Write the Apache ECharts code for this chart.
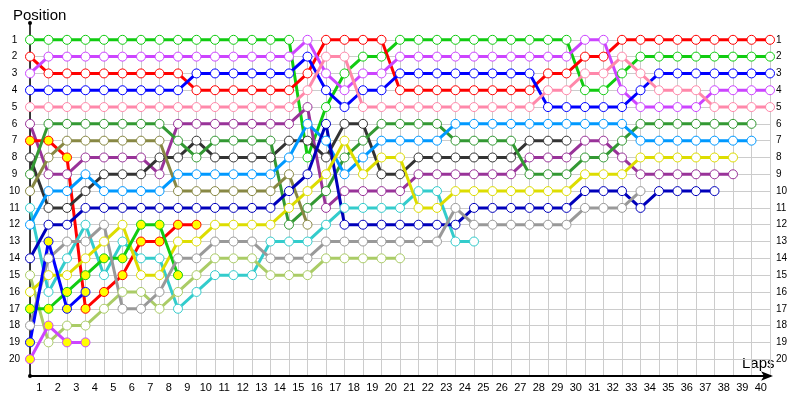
<!DOCTYPE html>
<html>
<head>
<meta charset="utf-8">
<script src="https://cdn.jsdelivr.net/npm/echarts@6/dist/echarts.min.js"></script>
<style>html,body{margin:0;padding:0;background:#fff}#c{width:800px;height:400px}</style>
</head>
<body>
<div id="c"></div>
<script>
// Tick labels
const lapLabels = ['1','2','3','4','5','6','7','8','9','10','11','12','13','14','15','16','17','18','19','20',
  '21','22','23','24','25','26','27','28','29','30','31','32','33','34','35','36','37','38','39','40'];
const posLabels = ['1','2','3','4','5','6','7','8','9','10','11','12','13','14','15','16','17','18','19','20'];

// Position per lap, starting at lap 0
const green      = [1,1,1,1,1,1,1,1,1,1,1,1,1,1,1,8,5,3,2,2,1,1,1,1,1,1,1,1,1,1,4,4,3,2,2,2,2,2,2,2,2];
const red        = [2,3,3,3,3,3,3,3,3,4,4,4,4,4,4,3,1,1,1,1,4,4,4,4,4,4,4,4,3,3,2,2,1,1,1,1,1,1,1,1,1];
const violet     = [3,2,2,2,2,2,2,2,2,2,2,2,2,2,2,1,3,4,3,3,2,2,2,2,2,2,2,2,2,2,1,1,4,5,5,5,5,4,4,4,4];
const blue       = [4,4,4,4,4,4,4,4,4,3,3,3,3,3,3,2,4,5,4,4,3,3,3,3,3,3,3,3,5,5,5,5,5,4,3,3,3,3,3,3,3];
const pink       = [5,5,5,5,5,5,5,5,5,5,5,5,5,5,5,4,2,2,5,5,5,5,5,5,5,5,5,5,4,4,3,3,2,3,4,4,4,5,5,5,5];
const purple     = [6,9,9,8,8,8,8,9,6,6,6,6,6,6,6,5,11,10,10,10,10,9,9,9,9,9,9,8,8,8,7,7,8,9,9,9,9,9,9];
const redB       = [7,7,8,17,16,15,13,13,12,12];
const darkGray   = [8,11,11,10,9,9,9,8,8,7,8,8,8,8,7,7,8,6,6,9,9,8,8,8,8,8,8,7,7,7];
const darkGreen  = [9,6,6,6,6,6,6,6,7,8,7,7,7,7,12,11,10,8,7,6,6,6,6,7,7,7,7,9,9,9,8,8,7,6,6,6,6,6,6,6];
const olive      = [10,8,7,7,7,7,7,7,10,10,10,10,10,10,9,12];
const teal       = [11,16,14,12,15,13,14,14,17,16,15,15,15,13,13,13,12,11,11,11,11,10,10,13,13];
const lightBlue  = [12,10,10,9,10,10,10,10,9,9,9,9,9,9,8,6,7,9,8,7,7,7,7,6,6,6,6,6,6,6,6,6,6,7,7,7,7,7,7,7];
const navy       = [14,12,12,11,11,11,11,11,11,11,11,11,11,11,10,9,6,12,12,12,12,12,12,12,11,11,11,11,11,11,10,10,10,11,10,10,10,10];
const yellowGreen= [15,19,18,18,17,16,16,17,16,15,14,14,14,15,15,15,14,14,14,14,14];
const yellow     = [16,15,15,14,13,12,15,15,13,13,12,12,12,12,11,10,9,7,9,8,8,11,11,10,10,10,10,10,10,10,9,9,9,8,8,8,8,8,8];
const greenB     = [17,17,16,15,14,14,12,12,15];
const gray       = [18,14,13,13,12,17,17,16,14,14,13,13,13,14,14,14,13,13,13,13,13,13,13,11,12,12,12,12,12,12,11,11,11,10];
const blueB      = [19,13,17,16];
const violetB    = [20,18,19,19];

const FONT = 'Liberation Sans';

function mk(name, color, vals, filled) {
  return {
    type: 'line', name: name, xAxisIndex: 0, yAxisIndex: 0,
    data: vals.map((v, i) => [i, v]),
    symbol: 'circle', symbolSize: 9, showAllSymbol: true, clip: false,
    lineStyle: { color: color, width: 3 },
    itemStyle: { color: filled ? '#ffff00' : '#ffffff', borderColor: color, borderWidth: 1 },
    emphasis: { disabled: true }, animation: false, z: 3
  };
}

const series = [
  mk('green', '#11cc11', green, false),
  mk('red', '#ff0000', red, false),
  mk('violet', '#cc44ff', violet, false),
  mk('blue', '#0000ff', blue, false),
  mk('pink', '#ff88aa', pink, false),
  mk('purple', '#993399', purple, false),
  mk('red2', '#ff0000', redB, true),
  mk('darkgray', '#333333', darkGray, false),
  mk('darkgreen', '#339933', darkGreen, false),
  mk('olive', '#888844', olive, false),
  mk('teal', '#33cccc', teal, false),
  mk('lightblue', '#0099ff', lightBlue, false),
  mk('navy', '#0000bb', navy, false),
  mk('yellowgreen', '#aacc66', yellowGreen, false),
  mk('yellow', '#dddd00', yellow, false),
  mk('green2', '#11cc11', greenB, true),
  mk('gray', '#999999', gray, false),
  mk('blue2', '#0000ff', blueB, true),
  mk('violet2', '#cc44ff', violetB, true)
];

const chart = echarts.init(document.getElementById('c'), null, { renderer: 'canvas' });
chart.setOption({
  animation: false,
  backgroundColor: '#ffffff',
  grid: [
    { left: 30, right: 30, top: 23, bottom: 24 },
    { left: 30, right: 30, top: 23 + 353 / 21, bottom: 24 }
  ],
  xAxis: [
    { gridIndex: 0, type: 'value', min: 0, max: 40, interval: 1,
      axisLine: { show: true, onZero: false, lineStyle: { color: '#000', width: 2 },
        symbol: ['none', 'arrow'], symbolSize: [7, 12], symbolOffset: [0, 3] },
      axisTick: { show: false }, axisLabel: { show: false }, splitLine: { show: false } },
    { gridIndex: 0, type: 'category', position: 'bottom', data: lapLabels, boundaryGap: true,
      axisLine: { show: false }, axisTick: { show: false }, splitLine: { show: false },
      axisLabel: { interval: 0, margin: 6, fontSize: 11, fontFamily: FONT, color: '#000' } },
    { gridIndex: 1, type: 'value', min: 0, max: 40, interval: 1,
      axisLine: { show: false }, axisTick: { show: false }, axisLabel: { show: false },
      splitLine: { show: true, lineStyle: { color: '#cccccc', width: 1 } } }
  ],
  yAxis: [
    { gridIndex: 0, type: 'value', min: 0, max: 21, interval: 1, inverse: true,
      axisLine: { show: true, onZero: false, lineStyle: { color: '#000', width: 1.5 },
        symbol: ['circle', 'circle'], symbolSize: [4, 4] },
      axisTick: { show: false }, splitLine: { show: false },
      axisLabel: { formatter: v => (v >= 1 && v <= 20) ? posLabels[v - 1] : '',
        align: 'center', margin: 15.5, fontSize: 10, fontFamily: FONT, color: '#000' } },
    { gridIndex: 0, type: 'value', position: 'right', min: 0, max: 21, interval: 1, inverse: true,
      axisLine: { show: false }, axisTick: { show: false }, splitLine: { show: false },
      axisLabel: { formatter: v => (v >= 1 && v <= 20) ? posLabels[v - 1] : '',
        align: 'left', margin: 6, fontSize: 10, fontFamily: FONT, color: '#000' } },
    { gridIndex: 1, type: 'value', min: 1, max: 21, interval: 1, inverse: true,
      axisLine: { show: false }, axisTick: { show: false }, axisLabel: { show: false },
      splitLine: { show: true, lineStyle: { color: '#cccccc', width: 1 } } }
  ],
  graphic: [
    { type: 'text', left: 13, top: 8, style: { text: 'Position', font: '15px "Liberation Sans"', fill: '#000' } },
    { type: 'text', left: 742, top: 356, style: { text: 'Laps', font: '15px "Liberation Sans"', fill: '#000' } }
  ],
  series: series
});
</script>
</body>
</html>
